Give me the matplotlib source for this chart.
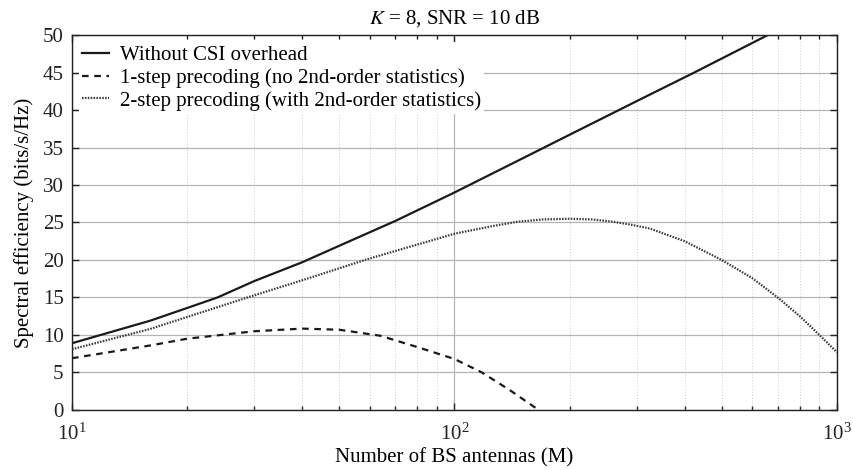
import matplotlib
matplotlib.use("Agg")
import matplotlib.pyplot as plt
import numpy as np
from matplotlib.ticker import LogLocator, LogFormatterMathtext, NullFormatter, MultipleLocator

plt.rcParams['font.family'] = ['Liberation Serif', 'DejaVu Serif']
plt.rcParams['mathtext.fontset'] = 'stix'

# values
m_full = [10, 16, 20, 24, 30, 40, 50, 70, 100, 150, 200, 300, 420, 660, 1000]
se_full = [8.9, 11.9, 13.6, 15.0, 17.2, 19.7, 21.9, 25.2, 29.0, 33.5, 36.7, 41.2, 44.9, 50.0, 54.5]

m_1step = [10, 16, 20, 30, 40, 50, 64, 81, 100, 118, 140, 166]
se_1step = [6.9, 8.6, 9.5, 10.5, 10.85, 10.7, 9.9, 8.3, 6.8, 5.0, 2.6, 0.0]

m_2step = [10, 16, 20, 30, 40, 60, 100, 125, 146, 170, 200, 230, 260, 290, 324, 400, 500, 600, 700, 800, 900, 1000]
se_2step = [8.1, 10.8, 12.4, 15.3, 17.3, 20.2, 23.5, 24.5, 25.1, 25.4, 25.5, 25.4, 25.1, 24.7, 24.2, 22.5, 20.0, 17.6, 15.0, 12.5, 10.0, 7.7]

labels = ['Without CSI overhead',
          '1-step precoding (no 2nd-order statistics)',
          '2-step precoding (with 2nd-order statistics)']

fig = plt.figure(figsize=(8.54, 4.70), dpi=100)
ax = fig.add_axes([0.0843, 0.1277, 0.8957, 0.7978])

ax.plot(m_full, se_full, color='#1a1a1a', lw=1.6, ls='-', label=labels[0])
ax.plot(m_1step, se_1step, color='#1a1a1a', lw=1.6, ls=(0, (3, 2.5)), label=labels[1])
ax.plot(m_2step, se_2step, color='#3a3a3a', lw=1.6, ls=(0, (0.7, 0.6)), label=labels[2])

ax.set_xscale('log')
ax.set_xlim(10, 1000)
ax.set_ylim(0, 50)
ax.yaxis.set_major_locator(MultipleLocator(5))
ax.xaxis.set_major_locator(LogLocator(base=10))
ax.xaxis.set_minor_locator(LogLocator(base=10, subs=np.arange(2, 10)))
ax.xaxis.set_major_formatter(LogFormatterMathtext())
ax.xaxis.set_minor_formatter(NullFormatter())

ax.grid(True, which='major', axis='both', color='#b4b4b4', lw=0.9, ls='-')
ax.grid(True, which='minor', axis='x', color='#cccccc', lw=0.7, ls=(0, (1, 2)))
ax.set_axisbelow(True)

ax.tick_params(which='both', direction='in', top=True, right=True, labelsize=15,
               width=1.0, colors='#222222')
ax.tick_params(which='major', length=5)
ax.tick_params(which='minor', length=3)
ax.tick_params(axis='x', which='major', pad=10)
ax.tick_params(axis='y', which='major', pad=6)
for s in ax.spines.values():
    s.set_color('#222222')
    s.set_linewidth(1.0)

ax.set_xlabel('Number of BS antennas (M)', fontsize=15, labelpad=2)
ax.set_ylabel('Spectral efficiency (bits/s/Hz)', fontsize=15, labelpad=6)
ax.set_title(r'$K$ = 8, SNR = 10 dB', fontsize=15, pad=8)

leg = ax.legend(loc='upper left', fontsize=15, frameon=True, fancybox=False,
                framealpha=1, edgecolor='none', facecolor='white',
                handlelength=1.3, handletextpad=0.5, labelspacing=0.15,
                borderpad=0.15, borderaxespad=0.35)

fig.savefig('out.png', dpi=100)
